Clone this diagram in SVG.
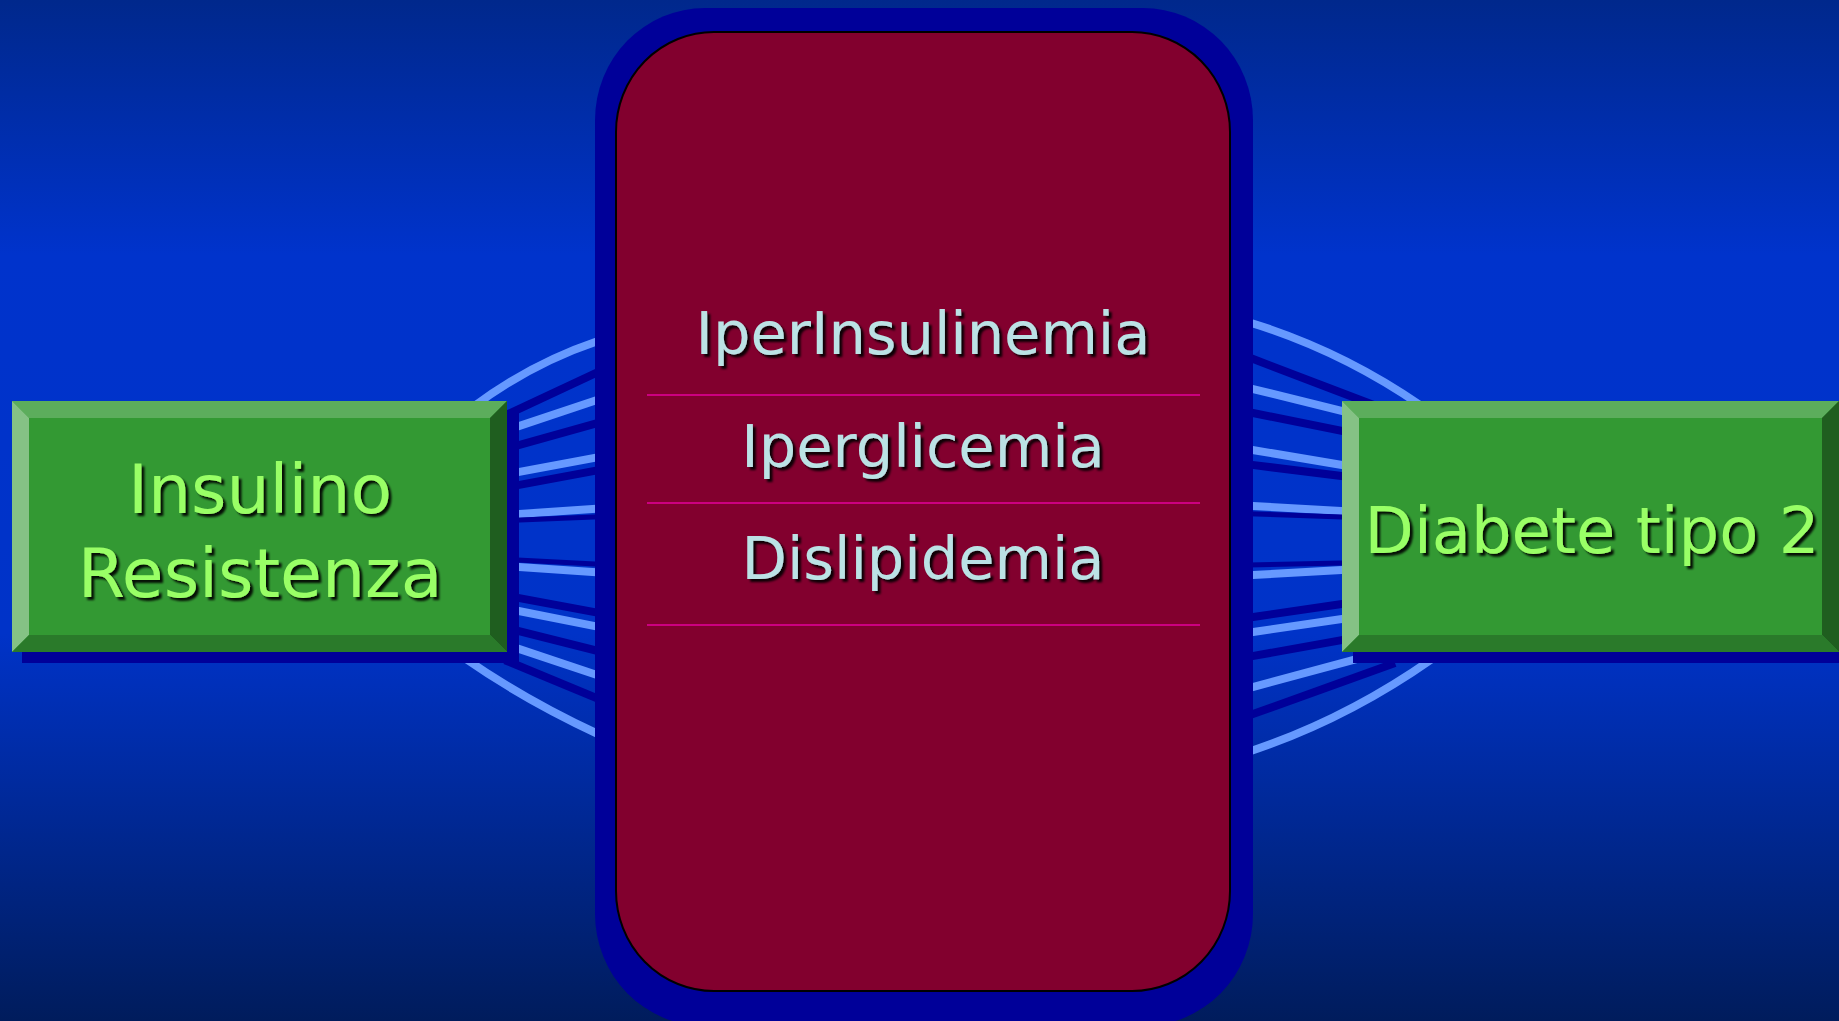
<svg xmlns="http://www.w3.org/2000/svg" width="1839" height="1021" viewBox="0 0 1839 1021">
<defs>
<linearGradient id="bg" x1="0" y1="0" x2="0" y2="1">
<stop offset="0" stop-color="#00288C"/>
<stop offset="0.25" stop-color="#0033CC"/>
<stop offset="0.62" stop-color="#0033C8"/>
<stop offset="1" stop-color="#001C5C"/>
</linearGradient>
<filter id="sh" x="-10%" y="-20%" width="130%" height="150%">
<feDropShadow dx="3" dy="3" stdDeviation="1.3" flood-color="#000" flood-opacity="0.9"/>
</filter>
<style>
.lt{stroke:#6699FF;stroke-width:8;fill:none}
.dk{stroke:#000099;stroke-width:8;fill:none}
.thin{stroke-width:5}
.shadow{fill:#000099}
.face{fill:#339933}
.btop{fill:#5CAD5C}
.bleft{fill:#85C285}
.bright{fill:#1F5E1F}
.bbot{fill:#2A7A2A}
.gt{font-family:"DejaVu Sans","Verdana",sans-serif;fill:#99FF66;text-anchor:middle;filter:url(#sh)}
.ct{font-family:"DejaVu Sans","Verdana",sans-serif;font-size:59px;fill:#BBE2E5;text-anchor:middle;filter:url(#sh)}
.sep{stroke:#CC0080;stroke-width:2}
</style>
</defs>
<rect width="1839" height="1021" fill="url(#bg)"/>

<g id="connectors">
<!-- left side -->
<path class="lt" d="M 473 407 Q 530 364 598 341"/>
<path class="lt" d="M 466 659 Q 525 700 598 734"/>
<line class="dk" x1="505" y1="415.5" x2="600" y2="371.2"/>
<line class="lt" x1="505" y1="430.7" x2="600" y2="399"/>
<line class="dk" x1="505" y1="448.9" x2="600" y2="422.3"/>
<line class="lt" x1="505" y1="474.6" x2="600" y2="456.9"/>
<line class="dk" x1="505" y1="487.6" x2="600" y2="469.9"/>
<line class="lt" x1="505" y1="514.9" x2="600" y2="508.6"/>
<line class="dk thin" x1="505" y1="520.6" x2="600" y2="516.8"/>
<line class="dk thin" x1="505" y1="559.3" x2="600" y2="564.3"/>
<line class="lt" x1="505" y1="566.1" x2="600" y2="572.4"/>
<line class="dk" x1="505" y1="595.4" x2="600" y2="613.1"/>
<line class="lt" x1="505" y1="608.2" x2="600" y2="627.2"/>
<line class="dk" x1="505" y1="627.5" x2="600" y2="651.5"/>
<line class="lt" x1="505" y1="644.3" x2="600" y2="676"/>
<line class="dk" x1="505" y1="660.2" x2="600" y2="699.5"/>
<!-- right side -->
<path class="lt" d="M 1248 322 Q 1340 350 1420 405"/>
<path class="lt" d="M 1248 752 Q 1345 720 1432 659"/>
<line class="dk" x1="1248" y1="357.1" x2="1400" y2="415.1"/>
<line class="lt" x1="1248" y1="387.8" x2="1400" y2="425.3"/>
<line class="dk" x1="1248" y1="412" x2="1400" y2="442.7"/>
<line class="lt" x1="1248" y1="449.2" x2="1400" y2="474.8"/>
<line class="dk" x1="1248" y1="464.4" x2="1400" y2="483.2"/>
<line class="lt" x1="1248" y1="505.7" x2="1400" y2="514.3"/>
<line class="dk thin" x1="1248" y1="513.8" x2="1400" y2="519"/>
<line class="dk thin" x1="1248" y1="565.1" x2="1400" y2="561.7"/>
<line class="lt" x1="1248" y1="575.3" x2="1400" y2="566.7"/>
<line class="dk" x1="1248" y1="617.7" x2="1400" y2="595.5"/>
<line class="lt" x1="1248" y1="632.7" x2="1400" y2="610.5"/>
<line class="dk" x1="1248" y1="656.9" x2="1400" y2="629.6"/>
<line class="lt" x1="1248" y1="688.3" x2="1400" y2="647.4"/>
<line class="dk" x1="1248" y1="715.8" x2="1395" y2="662.9"/>
</g>

<g id="insulino-resistenza">
<rect class="shadow" x="22" y="412" width="497" height="251"/>
<rect class="face" x="12" y="401" width="495" height="251"/>
<polygon class="btop" points="12,401 507,401 490,418 29,418"/>
<polygon class="bleft" points="12,401 29,418 29,635 12,652"/>
<polygon class="bright" points="507,401 507,652 490,635 490,418"/>
<polygon class="bbot" points="12,652 29,635 490,635 507,652"/>
<text class="gt" x="260" y="513" font-size="68">Insulino</text>
<text class="gt" x="260" y="597" font-size="68">Resistenza</text>
</g>

<g id="diabete-tipo-2">
<rect class="shadow" x="1353" y="412" width="490" height="251"/>
<rect class="face" x="1342" y="401" width="497" height="251"/>
<polygon class="btop" points="1342,401 1839,401 1822,418 1359,418"/>
<polygon class="bleft" points="1342,401 1359,418 1359,635 1342,652"/>
<polygon class="bright" points="1839,401 1839,652 1822,635 1822,418"/>
<polygon class="bbot" points="1342,652 1359,635 1822,635 1839,652"/>
<text class="gt" x="1592" y="553" font-size="64">Diabete tipo 2</text>
</g>

<g id="sindrome">
<rect x="595" y="8" width="658" height="1018" rx="110" ry="112" fill="#000099"/>
<rect x="616" y="32" width="614" height="959" rx="98" ry="100" fill="#82002E" stroke="#000" stroke-width="2"/>
<line class="sep" x1="647" y1="395" x2="1200" y2="395"/>
<line class="sep" x1="647" y1="503" x2="1200" y2="503"/>
<line class="sep" x1="647" y1="625" x2="1200" y2="625"/>
<text class="ct" x="923" y="354">IperInsulinemia</text>
<text class="ct" x="923" y="467">Iperglicemia</text>
<text class="ct" x="923" y="579">Dislipidemia</text>
</g>
</svg>
